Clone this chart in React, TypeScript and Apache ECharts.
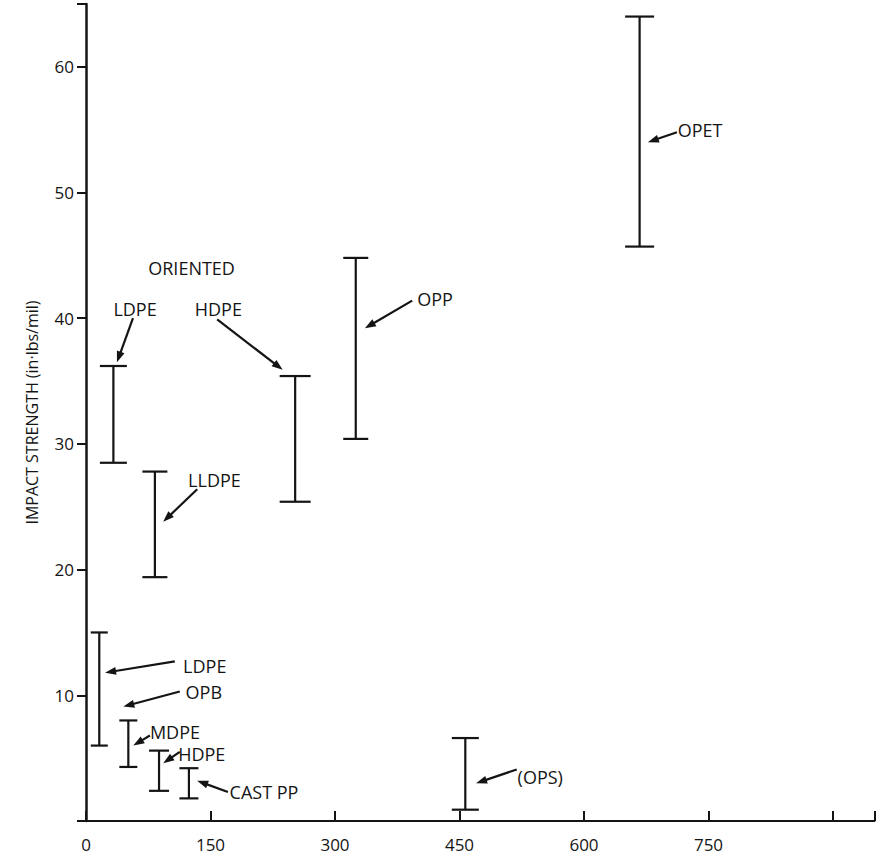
import React, { useEffect, useRef } from "react";
import * as echarts from "echarts";

// Error bars: material, film thickness axis value (x), impact strength range (low..high)
const materials = ["LDPE (oriented)", "LLDPE", "HDPE (oriented)", "OPP", "OPET", "LDPE", "MDPE", "HDPE", "CAST PP", "(OPS)"];
const xValues = [33, 83, 252, 325, 667, 16, 51, 88, 124, 457];
const lowValues = [28.5, 19.4, 25.4, 30.4, 45.7, 6.0, 4.3, 2.4, 1.8, 0.9];
const highValues = [36.2, 27.8, 35.4, 44.8, 64.0, 15.0, 8.0, 5.6, 4.2, 6.6];

// Tick labels
const xTicks = [0, 150, 300, 450, 600, 750];
const yTicks = [10, 20, 30, 40, 50, 60];

// Annotation texts (anchored in data coordinates: left edge x, middle y)
const labelTexts = ["ORIENTED", "LDPE", "HDPE", "OPP", "LLDPE", "OPET", "LDPE", "OPB", "MDPE", "HDPE", "CAST PP", "(OPS)"];
const labelX = [75, 33, 131, 399, 123, 713, 117, 120, 77, 111, 173, 520];
const labelY = [44.0, 40.7, 40.7, 41.5, 27.1, 55.0, 12.3, 10.3, 7.1, 5.3, 2.3, 3.5];

// Arrows: [fromX, fromY, toX, toY] in data coordinates
const arrows = [
  [56.6, 40.0, 37.3, 36.5],
  [158, 39.9, 237, 35.9],
  [393, 41.4, 336, 39.2],
  [134, 26.4, 93, 23.8],
  [712, 54.8, 677, 54.0],
  [107, 12.7, 23, 11.8],
  [113, 10.3, 45, 9.1],
  [77, 6.8, 57, 6.0],
  [113, 5.5, 93, 4.6],
  [171, 2.3, 134, 3.2],
  [519, 4.1, 470, 3.0],
];

const capWidths = [27, 25, 31, 25, 29, 17, 18, 20, 19, 27];

const INK = "#141414";
const FONT = '"Open Sans", sans-serif';

export default function App() {
  const ref = useRef<HTMLDivElement>(null);
  useEffect(() => {
    document.body.style.margin = "0";
    if (!ref.current) return;
    const chart = echarts.init(ref.current, null, { renderer: "svg" });
    const barData = materials.map((m, i) => ({ name: m, value: [xValues[i], lowValues[i], highValues[i]] }));
    const labelData = labelTexts.map((t, i) => ({ name: t, value: [labelX[i], labelY[i]] }));
    const arrowData = arrows.map((a) => ({ value: a }));

    chart.setOption({
      animation: false,
      backgroundColor: "#ffffff",
      grid: { left: 86, right: 5.5, top: 4, bottom: 34, containLabel: false },
      xAxis: {
        type: "value",
        min: 0,
        max: 950,
        interval: 150,
        splitLine: { show: false },
        axisLine: { show: true, onZero: false, lineStyle: { color: INK, width: 2 } },
        axisTick: { show: true, inside: true, length: 10, lineStyle: { color: INK, width: 2 } },
        axisLabel: {
          color: INK,
          fontSize: 17,
          fontFamily: FONT,
          margin: 15,
          formatter: (v: number) => (xTicks.includes(v) ? String(v) : ""),
        },
      },
      yAxis: {
        type: "value",
        min: 0,
        max: 65,
        interval: 10,
        splitLine: { show: false },
        name: "IMPACT STRENGTH (in·lbs/mil)",
        nameLocation: "middle",
        nameGap: 46,
        nameTextStyle: { color: INK, fontSize: 16, fontFamily: FONT },
        axisLine: { show: true, onZero: false, lineStyle: { color: INK, width: 2.5 } },
        axisTick: { show: true, inside: false, length: 9, lineStyle: { color: INK, width: 2 } },
        axisLabel: {
          color: INK,
          fontSize: 17,
          fontFamily: FONT,
          margin: 12,
          formatter: (v: number) => (yTicks.includes(v) ? String(v) : ""),
        },
      },
      series: [
        {
          type: "custom",
          name: "range",
          data: barData,
          renderItem: (params: any, api: any) => {
            const x = api.value(0);
            const lo = api.coord([x, api.value(1)]);
            const hi = api.coord([x, api.value(2)]);
            const hw = capWidths[params.dataIndex] / 2;
            const st = { stroke: INK, lineWidth: 2.2 };
            return {
              type: "group",
              children: [
                { type: "line", shape: { x1: lo[0], y1: lo[1], x2: hi[0], y2: hi[1] }, style: st },
                { type: "line", shape: { x1: hi[0] - hw, y1: hi[1], x2: hi[0] + hw, y2: hi[1] }, style: st },
                { type: "line", shape: { x1: lo[0] - hw, y1: lo[1], x2: lo[0] + hw, y2: lo[1] }, style: st },
              ],
            };
          },
        },
        {
          type: "custom",
          name: "arrows",
          data: arrowData,
          renderItem: (params: any, api: any) => {
            const p0 = api.coord([api.value(0), api.value(1)]);
            const p1 = api.coord([api.value(2), api.value(3)]);
            const dx = p1[0] - p0[0];
            const dy = p1[1] - p0[1];
            const len = Math.sqrt(dx * dx + dy * dy) || 1;
            const ux = dx / len;
            const uy = dy / len;
            const hl = 11;
            const hw = 4;
            const bx = p1[0] - ux * hl;
            const by = p1[1] - uy * hl;
            return {
              type: "group",
              children: [
                { type: "line", shape: { x1: p0[0], y1: p0[1], x2: bx + ux * 2, y2: by + uy * 2 }, style: { stroke: INK, lineWidth: 2.2 } },
                {
                  type: "polygon",
                  shape: { points: [[p1[0], p1[1]], [bx - uy * hw, by + ux * hw], [bx + uy * hw, by - ux * hw]] },
                  style: { fill: INK },
                },
              ],
            };
          },
        },
        {
          type: "custom",
          name: "labels",
          data: labelData,
          renderItem: (params: any, api: any) => {
            const p = api.coord([api.value(0), api.value(1)]);
            return {
              type: "text",
              x: p[0],
              y: p[1],
              style: {
                text: labelTexts[params.dataIndex],
                fill: INK,
                font: `18px ${FONT}`,
                align: "left",
                verticalAlign: "middle",
              },
            };
          },
        },
      ],
    });
    return () => chart.dispose();
  }, []);
  return <div ref={ref} style={{ width: 880, height: 855 }} />;
}
